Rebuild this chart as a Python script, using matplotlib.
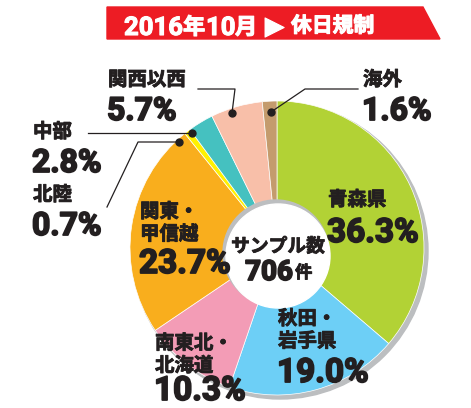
import matplotlib
matplotlib.use("Agg")
import matplotlib.pyplot as plt
from matplotlib.patches import Circle, Polygon
import matplotlib.patheffects as pe
import warnings

warnings.filterwarnings("ignore")

# データ
regions = ["青森県", "秋田・\n岩手県", "南東北・\n北海道", "関東・\n甲信越",
           "北陸", "中部", "関西以西", "海外"]
shares = [36.3, 19.0, 10.3, 23.7, 0.7, 2.8, 5.7, 1.6]
colors = ["#b2d235", "#6dcff6", "#f39cb6", "#f9ae1d",
          "#fff100", "#45c1c0", "#f8bfa9", "#c49b6d"]
sample_count = 706
title_year, title_month, title_topic = "2016", "10", "休日規制"

NUM_FONT = ["Roboto", "DejaVu Sans"]
JP_FONT = ["Noto Sans CJK JP", "DejaVu Sans"]
INK = "#231f20"
jp_fx = [pe.withStroke(linewidth=0.6, foreground=INK)]
num_fx = [pe.withStroke(linewidth=1.3, foreground=INK)]
hdr_fx = [pe.withStroke(linewidth=0.8, foreground="white")]

fig = plt.figure(figsize=(4.71, 4.08), dpi=100)
ax = fig.add_axes([0, 0, 1, 1])

# 影のリング
ax.add_patch(Circle((280, 251), 148, color="#bcbec0", zorder=0))

ax.pie(shares, colors=colors, center=(277, 248), radius=147,
       startangle=-90, counterclock=True,
       wedgeprops=dict(linewidth=0.5, edgecolor="white"))

# 中央の円
ax.add_patch(Circle((276, 253), 53, color="#bcbec0", zorder=3))
ax.add_patch(Circle((278, 256), 52, color="white", zorder=4))

ax.set_xlim(0, 471)
ax.set_ylim(408, 0)
ax.axis("off")

# タイトル帯
ax.add_patch(Polygon([(107, 7), (423, 7), (440, 39), (107, 39)],
                     closed=True, color="#ed1c24", zorder=5))
hdr = dict(color="white", fontweight="bold", va="baseline", ha="left", zorder=6,
           path_effects=hdr_fx)
ax.text(124, 35, title_year, family=NUM_FONT, fontsize=18.5, **hdr)
ax.text(183, 34, "年", family=JP_FONT, fontsize=16, **hdr)
ax.text(206, 35, title_month, family=NUM_FONT, fontsize=18.5, **hdr)
ax.text(235, 34, "月", family=JP_FONT, fontsize=16, **hdr)
ax.text(265, 34, "▶", family=["DejaVu Sans"], fontsize=18, **hdr)
ax.text(291, 32, title_topic, family=JP_FONT, fontsize=15, **hdr)


def label(x, name_base, pct_base, i, jp_size=14, num_size=24):
    lines = regions[i].split("\n")
    for k, line in enumerate(lines):
        ax.text(x, name_base + k * 22.5, line, family=JP_FONT, fontsize=jp_size,
                fontweight="bold", color=INK, va="baseline", ha="left", zorder=7,
                path_effects=jp_fx)
    ax.text(x - 1, pct_base, f"{shares[i]:.1f}%", family=NUM_FONT, fontsize=num_size,
            fontweight="bold", color=INK, va="baseline", ha="left", zorder=7,
            path_effects=num_fx)


# 内側ラベル
label(328, 205.5, 242, 0)
label(278, 324.5, 382, 1)
label(155, 349, 400, 2)
label(140, 217.5, 273, 3)

# 外側ラベル
label(33, 200.5, 235, 4, num_size=23)
label(33, 137.5, 172, 5, num_size=23)
label(108, 85.5, 120, 6, num_size=23)
label(363, 85.5, 120, 7, num_size=23)

# 引き出し線
leaders = [
    [(271, 112), (305, 89), (358, 89)],
    [(232, 113), (235, 89), (198, 89)],
    [(192, 133), (88, 133)],
    [(179, 142), (138, 142), (107, 207)],
]
for pts in leaders:
    xs = [p[0] for p in pts]
    ys = [p[1] for p in pts]
    ax.plot(xs, ys, color=INK, lw=0.9, zorder=8)
    ax.plot(xs[0], ys[0], "o", color=INK, markersize=5, zorder=8)

# サンプル数
ax.text(278, 252, "サンプル数", family=JP_FONT, fontsize=13.5, fontweight="bold",
        color=INK, va="baseline", ha="center", zorder=7, path_effects=jp_fx)
ax.text(293, 280, str(sample_count), family=NUM_FONT, fontsize=20, fontweight="bold",
        color=INK, va="baseline", ha="right", zorder=7, path_effects=num_fx)
ax.text(295, 278, "件", family=JP_FONT, fontsize=12.5, fontweight="bold",
        color=INK, va="baseline", ha="left", zorder=7, path_effects=jp_fx)

fig.savefig("out.png", dpi=100)
